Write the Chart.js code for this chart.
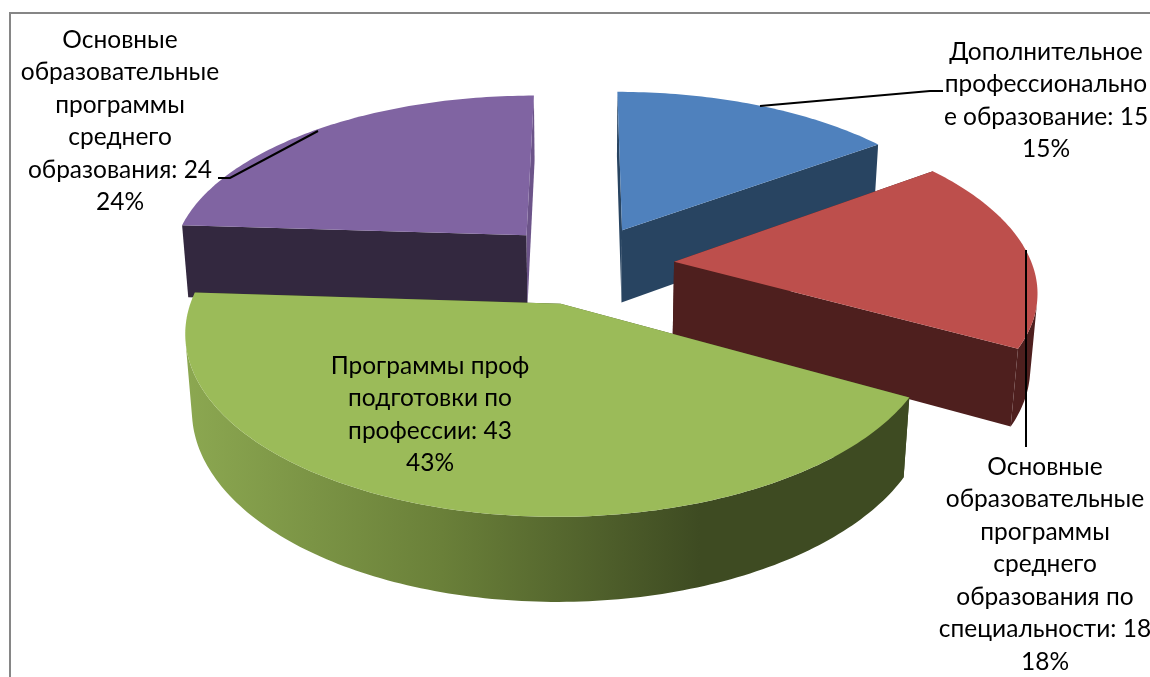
<!DOCTYPE html>
<html>
<head>
<meta charset="utf-8">
<style>
  html, body { margin: 0; padding: 0; background: #fff; overflow: hidden; }
  canvas { display: block; }
</style>
<script src="https://cdn.jsdelivr.net/npm/chart.js@4/dist/chart.umd.min.js"></script>
</head>
<body>
<canvas id="pie" width="1150" height="677"></canvas>
<script>
// values and wrapped names of the slices
const categories = [
    'Дополнительное профессиональное образование',
    'Основные образовательные программы среднего образования по специальности',
    'Программы проф подготовки по профессии',
    'Основные образовательные программы среднего образования'
];
const values = [15, 18, 43, 24];
const wrappedNames = [
    ['Дополнительное', 'профессионально', 'е образование'],
    ['Основные', 'образовательные', 'программы', 'среднего', 'образования по', 'специальности'],
    ['Программы проф', 'подготовки по', 'профессии'],
    ['Основные', 'образовательные', 'программы', 'среднего', 'образования']
];
const topColors = ['#4f81bd', '#bd4f4c', '#9bbb59', '#8064a2'];
const sideColors = ['#284461', '#4e1f1e', null, '#33283f'];
const endFaceColors = ['#284461', '#4e1f1e', '#3e4b22', '#6c5489'];

// painter order, back to front
const drawOrder = [3, 0, 1, 2];
const explode = [0.235, 0.25, 0.235, 0.245];

// where each label sits: centre x, first line y
const labelSpots = [
    { x: 1046, y: 52 },
    { x: 1045, y: 467 },
    { x: 430, y: 366 },
    { x: 120, y: 40 }
];
const lineStep = 32.5;
const leaders = [
    [[760, 106], [930, 91], [943, 91]],
    [[1026, 250], [1026, 447]],
    [],
    [[318, 131], [230, 178], [218, 178]]
];

// perspective of the tilted disc
const view = { c: 358, a: 168.4, b: 0.1485, g: 0.016, h: 75 };

function project(arc, u, v, z) {
    const d = 1 - view.b * v + view.g * z;
    return [arc.x + view.c * u / d, arc.y + (view.a * v + view.h * z) / d];
}

function tracePoly(ctx, pts) {
    ctx.beginPath();
    pts.forEach((p, i) => i ? ctx.lineTo(p[0], p[1]) : ctx.moveTo(p[0], p[1]));
    ctx.closePath();
}

function polyArea(pts) {
    let s = 0;
    for (let i = 0; i < pts.length; i++) {
        const q = pts[(i + 1) % pts.length];
        s += pts[i][0] * q[1] - q[0] * pts[i][1];
    }
    return s / 2;
}

function drawSlice(ctx, arc, index) {
    const t0 = arc.startAngle + Math.PI / 2;
    const t1 = arc.endAngle + Math.PI / 2;
    const mid = (t0 + t1) / 2;
    const au = explode[index] * Math.sin(mid);
    const av = -explode[index] * Math.cos(mid);

    const n = Math.ceil((t1 - t0) / (Math.PI / 180));
    const rimTop = [];
    const rimBottom = [];
    for (let i = 0; i <= n; i++) {
        const t = t0 + (t1 - t0) * i / n;
        const u = au + Math.sin(t);
        const v = av - Math.cos(t);
        rimTop.push(project(arc, u, v, 0));
        rimBottom.push(project(arc, u, v, 1));
    }
    const apexTop = project(arc, au, av, 0);
    const apexBottom = project(arc, au, av, 1);

    let side = sideColors[index];
    if (!side) {
        // only the big slice has the lit wall
        side = ctx.createLinearGradient(183, 0, 700, 0);
        side.addColorStop(0, '#8ca851');
        side.addColorStop(0.5, '#6a8039');
        side.addColorStop(1, '#3e4b22');
    }
    ctx.fillStyle = side;
    tracePoly(ctx, [apexTop, rimTop[0], rimBottom[0], apexBottom]);
    ctx.fill();
    ctx.fillStyle = endFaceColors[index];
    tracePoly(ctx, [apexTop, rimTop[n], rimBottom[n], apexBottom]);
    ctx.fill();

    // outer wall: one polygon per run of segments that face the viewer
    ctx.fillStyle = side;
    let runStart = -1;
    for (let i = 0; i <= n; i++) {
        const facing = i < n && polyArea([rimTop[i], rimTop[i + 1], rimBottom[i + 1], rimBottom[i]]) < 0;
        if (facing && runStart < 0) runStart = i;
        if (!facing && runStart >= 0) {
            const upper = rimTop.slice(runStart, i + 1);
            const lower = rimBottom.slice(runStart, i + 1).reverse();
            tracePoly(ctx, upper.concat(lower));
            ctx.fill();
            runStart = -1;
        }
    }

    tracePoly(ctx, [apexTop].concat(rimTop));
    ctx.fillStyle = arc.options.backgroundColor;
    ctx.fill();
}

const pie3d = {
    id: 'pie3d',
    beforeDraw(chart) {
        const ctx = chart.ctx;
        ctx.save();
        ctx.strokeStyle = '#868686';
        ctx.lineWidth = 2;
        ctx.beginPath();
        ctx.moveTo(10, 677);
        ctx.lineTo(10, 13);
        ctx.lineTo(1150, 13);
        ctx.stroke();
        ctx.restore();
    },
    beforeDatasetDraw(chart, args) {
        const ctx = chart.ctx;
        const arcs = chart.getDatasetMeta(args.index).data;
        ctx.save();
        drawOrder.forEach(i => drawSlice(ctx, arcs[i], i));
        ctx.restore();
        return false;
    },
    afterDraw(chart) {
        const ctx = chart.ctx;
        const total = values.reduce((a, b) => a + b, 0);
        ctx.save();
        ctx.strokeStyle = '#000';
        ctx.lineWidth = 2;
        leaders.forEach(line => {
            if (!line.length) return;
            ctx.beginPath();
            line.forEach((p, i) => i ? ctx.lineTo(p[0], p[1]) : ctx.moveTo(p[0], p[1]));
            ctx.stroke();
        });
        ctx.fillStyle = '#000';
        ctx.font = '24.5px Lato, "Open Sans", sans-serif';
        ctx.textAlign = 'center';
        ctx.textBaseline = 'middle';
        values.forEach((val, i) => {
            const lines = wrappedNames[i].slice();
            lines[lines.length - 1] += ': ' + val;
            lines.push(Math.round(val / total * 100) + '%');
            lines.forEach((txt, k) => {
                ctx.fillText(txt, labelSpots[i].x, labelSpots[i].y + k * lineStep);
            });
        });
        ctx.restore();
    }
};

new Chart(document.getElementById('pie').getContext('2d'), {
    type: 'pie',
    data: {
        labels: categories,
        datasets: [{ data: values, backgroundColor: topColors, borderWidth: 0 }]
    },
    options: {
        responsive: false,
        animation: false,
        events: [],
        rotation: 0,
        layout: { padding: { left: 20, bottom: 148 } },
        plugins: { legend: { display: false }, tooltip: { enabled: false } }
    },
    plugins: [pie3d]
});
</script>
</body>
</html>
